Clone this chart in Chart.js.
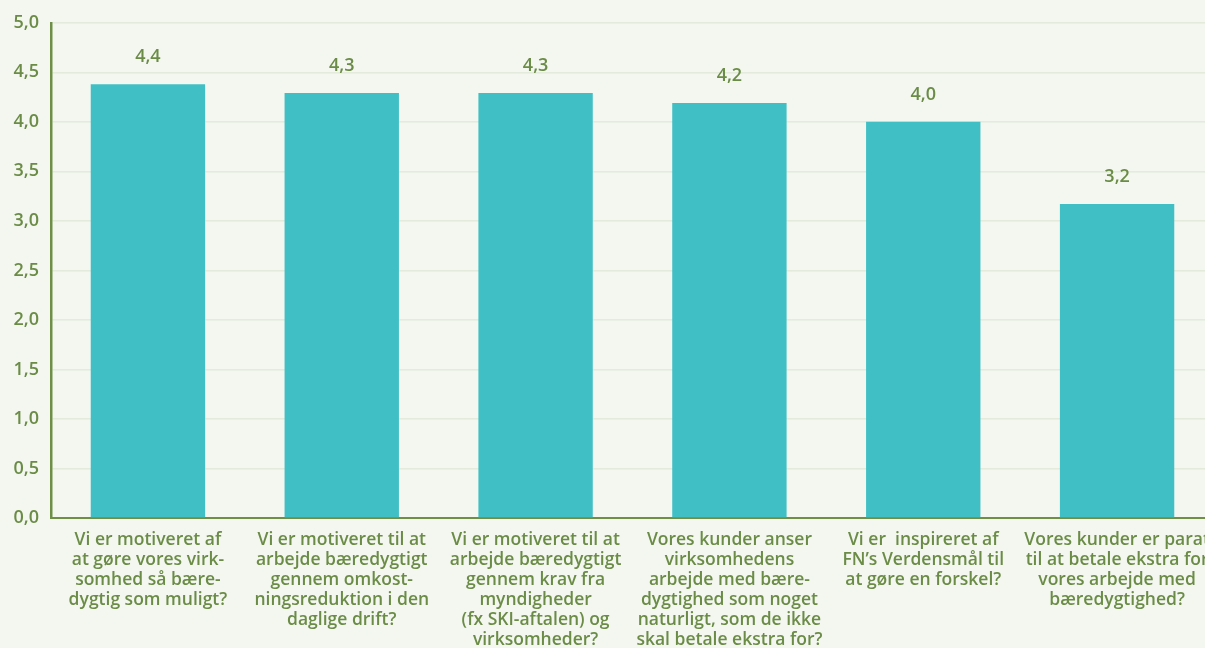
<!DOCTYPE html>
<html>
<head>
<meta charset="utf-8">
<script src="https://cdn.jsdelivr.net/npm/chart.js@4.4.1/dist/chart.umd.min.js"></script>
<style>
  html, body { margin: 0; padding: 0; background: #f3f7f0; overflow: hidden; }
  #wrap { position: relative; width: 1214px; height: 648px; }
</style>
</head>
<body>
<div id="wrap"><canvas id="c"></canvas></div>
<script>
const categories = [
  ["Vi er motiveret af", "at gøre vores virk-", "somhed så bære-", "dygtig som muligt?"],
  ["Vi er motiveret til at", "arbejde bæredygtigt", "gennem omkost-", "ningsreduktion i den", "daglige drift?"],
  ["Vi er motiveret til at", "arbejde bæredygtigt", "gennem krav fra", "myndigheder", "(fx SKI-aftalen) og", "virksomheder?"],
  ["Vores kunder anser", "virksomhedens", "arbejde med bære-", "dygtighed som noget", "naturligt, som de ikke", "skal betale ekstra for?"],
  ["Vi er  inspireret af", "FN’s Verdensmål til", "at gøre en forskel?"],
  ["Vores kunder er parat", "til at betale ekstra for", "vores arbejde med", "bæredygtighed?"]
];
const values = [4.38, 4.29, 4.29, 4.19, 4.00, 3.17];
const yTicks = [0, 0.5, 1, 1.5, 2, 2.5, 3, 3.5, 4, 4.5, 5];

const TEXT = '#6b8c46';
const AXIS = '#6f8f46';
const BAR = '#40bfc5';
const GRID = '#e4eadc';
const FONT = '"Open Sans", Lato, "DejaVu Sans", sans-serif';

const fmt = v => v.toFixed(1).replace('.', ',');

const valueLabels = {
  id: 'valueLabels',
  afterDatasetsDraw(chart) {
    const ctx = chart.ctx;
    const meta = chart.getDatasetMeta(0);
    ctx.save();
    ctx.fillStyle = TEXT;
    ctx.font = '600 18px ' + FONT;
    ctx.textAlign = 'center';
    ctx.textBaseline = 'middle';
    meta.data.forEach((el, i) => {
      ctx.fillText(fmt(values[i]), el.x, el.y - 27);
    });
    ctx.restore();
  }
};

new Chart(document.getElementById('c'), {
  type: 'bar',
  data: {
    labels: categories,
    datasets: [{
      data: values,
      backgroundColor: BAR,
      borderWidth: 0,
      barPercentage: 0.59,
      categoryPercentage: 1.0
    }]
  },
  options: {
    responsive: true,
    maintainAspectRatio: false,
    animation: false,
    layout: { padding: { top: 22, right: 0, bottom: 0, left: 0 } },
    plugins: {
      legend: { display: false },
      tooltip: { enabled: false }
    },
    scales: {
      x: {
        grid: { display: false, drawTicks: false },
        border: { display: true, color: AXIS, width: 2 },
        ticks: {
          color: TEXT,
          font: { family: FONT, size: 17.5, weight: '600', lineHeight: '20px' },
          padding: 12,
          maxRotation: 0,
          autoSkip: false
        },
        afterFit(scale) { scale.height = 130; scale.paddingLeft = 0; scale.paddingRight = 0; }
      },
      y: {
        min: 0,
        max: 5,
        afterBuildTicks(scale) { scale.ticks = yTicks.map(v => ({ value: v })); },
        grid: { color: GRID, lineWidth: 1.5, drawTicks: false },
        border: { display: true, color: AXIS, width: 2.5 },
        ticks: {
          color: TEXT,
          font: { family: FONT, size: 18, weight: '600' },
          padding: 12,
          callback: v => fmt(v)
        },
        afterFit(scale) { scale.width = 51; }
      }
    }
  },
  plugins: [valueLabels]
});
</script>
</body>
</html>
